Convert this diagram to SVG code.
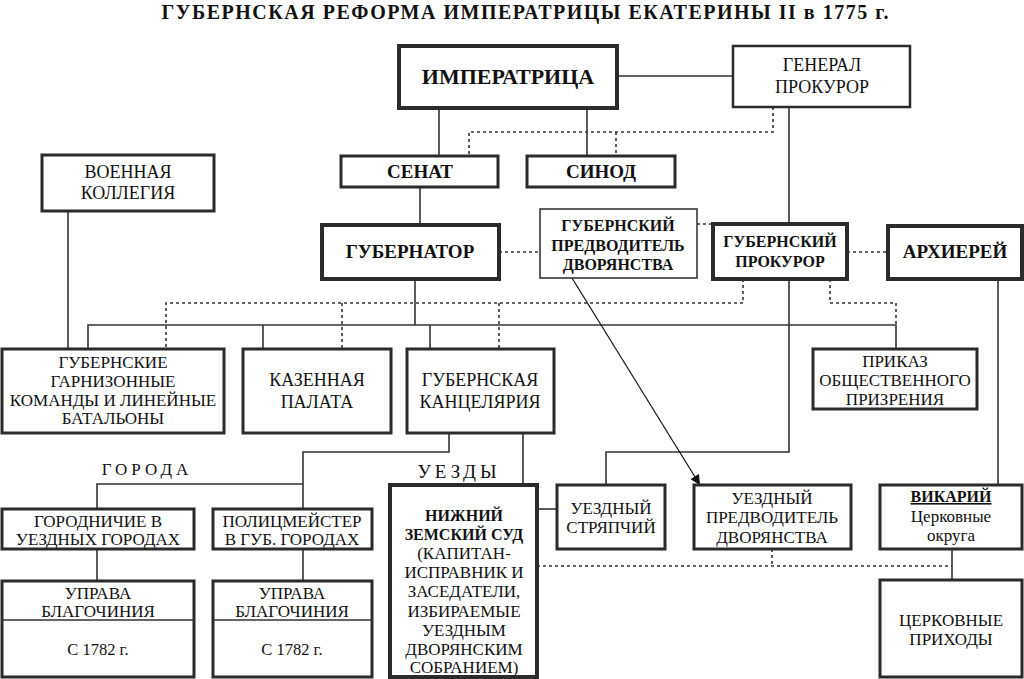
<svg xmlns="http://www.w3.org/2000/svg" width="1024" height="679" viewBox="0 0 1024 679">
<style>
  text { font-family: "Liberation Serif", "Times New Roman", serif; fill: #111; text-anchor: middle; }
  .t { font-size: 20px; font-weight: bold; }
  .n { font-size: 18px; }
  .s { font-size: 17px; }
  .b { font-size: 19px; font-weight: bold; }
  .bs { font-size: 16px; font-weight: bold; }
  .sp { font-size: 17px; letter-spacing: 4px; }
  .box { fill: #fff; stroke: #2b2b2b; stroke-width: 3; }
  .thick { fill: #fff; stroke: #2b2b2b; stroke-width: 4; }
  .thin { fill: #fff; stroke: #2b2b2b; stroke-width: 1.5; }
  .med { fill: #fff; stroke: #2b2b2b; stroke-width: 2.5; }
  .ln { fill: none; stroke: #333; stroke-width: 1.6; }
  .dt { fill: none; stroke: #333; stroke-width: 1.6; stroke-dasharray: 3 3; }
  .ar { fill: none; stroke: #111; stroke-width: 1.2; }
</style>
<defs>
  <marker id="arrow" viewBox="0 0 10 10" refX="10" refY="5" markerWidth="10" markerHeight="10" markerUnits="userSpaceOnUse" orient="auto">
    <path d="M0,0 L10,5 L0,10 z" fill="#111"/>
  </marker>
</defs>
<rect width="1024" height="679" fill="#fff"/>
<text class="t" x="525" y="19" textLength="727" lengthAdjust="spacing">ГУБЕРНСКАЯ РЕФОРМА ИМПЕРАТРИЦЫ ЕКАТЕРИНЫ II в 1775 г.</text>

<g id="connectors">
  <path class="ln" d="M617,76 H733"/>
  <path class="ln" d="M439,108 V156"/>
  <path class="ln" d="M587,108 V156"/>
  <path class="ln" d="M789,107 V224"/>
  <path class="ln" d="M420,187 V225"/>
  <path class="ln" d="M68,211 V349"/>
  <path class="ln" d="M415,279 V325"/>
  <path class="ln" d="M88,349 V325 H896 V349"/>
  <path class="ln" d="M263,325 V349"/>
  <path class="ln" d="M430,325 V349"/>
  <path class="ln" d="M789,279 V452 H606 V485"/>
  <path class="ln" d="M998,279 V485"/>
  <path class="ln" d="M449,433 V452 H303 V509"/>
  <path class="ln" d="M97,509 V484 H303"/>
  <path class="ln" d="M97,549 V581"/>
  <path class="ln" d="M303,549 V581"/>
  <path class="ln" d="M523,433 V485"/>
  <path class="ln" d="M537,509 H557"/>
  <path class="ln" d="M952,549 V580"/>
  <path class="dt" d="M773,107 V132 H469 V156"/>
  <path class="dt" d="M616,132 V156"/>
  <path class="dt" d="M499,252 H540"/>
  <path class="dt" d="M697,224 H713"/>
  <path class="dt" d="M847,252 H888"/>
  <path class="dt" d="M743,279 V303 H166 V349"/>
  <path class="dt" d="M342,303 V349"/>
  <path class="dt" d="M499,303 V349"/>
  <path class="dt" d="M830,279 V303 H896 V325"/>
  <path class="dt" d="M537,566 H952"/>
  <path class="dt" d="M772,549 V566"/>
  <path class="ar" d="M572,278 L700,485" marker-end="url(#arrow)"/>
</g>

<g id="imperatrica">
  <rect class="thick" x="399" y="46" width="218" height="62"/>
  <text style="font-size:22px;font-weight:bold" x="508" y="84">ИМПЕРАТРИЦА</text>
</g>
<g id="general-prokuror">
  <rect class="med" x="733" y="46" width="177" height="61"/>
  <text class="n" x="822" y="71">ГЕНЕРАЛ</text>
  <text class="n" x="822" y="93">ПРОКУРОР</text>
</g>
<g id="senat">
  <rect class="box" x="341" y="156" width="157" height="31"/>
  <text class="b" x="420" y="178">СЕНАТ</text>
</g>
<g id="sinod">
  <rect class="box" x="527" y="156" width="148" height="31"/>
  <text class="b" x="601" y="178">СИНОД</text>
</g>
<g id="voennaya-kollegiya">
  <rect class="box" x="42" y="155" width="172" height="56"/>
  <text class="n" x="128" y="178">ВОЕННАЯ</text>
  <text class="n" x="128" y="199">КОЛЛЕГИЯ</text>
</g>
<g id="gubernator">
  <rect class="thick" x="322" y="225" width="177" height="54"/>
  <text class="b" x="410" y="258">ГУБЕРНАТОР</text>
</g>
<g id="gub-predvoditel">
  <rect class="thin" x="540" y="209" width="157" height="69"/>
  <text class="bs" x="618" y="231">ГУБЕРНСКИЙ</text>
  <text class="bs" x="618" y="251">ПРЕДВОДИТЕЛЬ</text>
  <text class="bs" x="618" y="270">ДВОРЯНСТВА</text>
</g>
<g id="gub-prokuror">
  <rect class="thick" x="713" y="224" width="134" height="55"/>
  <text class="bs" x="780" y="247">ГУБЕРНСКИЙ</text>
  <text class="bs" x="780" y="267">ПРОКУРОР</text>
</g>
<g id="arhierey">
  <rect class="thick" x="888" y="226" width="134" height="53"/>
  <text class="b" x="955" y="258">АРХИЕРЕЙ</text>
</g>
<g id="garnizon">
  <rect class="box" x="2" y="349" width="222" height="84"/>
  <text class="s" x="113" y="368">ГУБЕРНСКИЕ</text>
  <text class="s" x="113" y="387">ГАРНИЗОННЫЕ</text>
  <text class="s" x="113" y="406">КОМАНДЫ И ЛИНЕЙНЫЕ</text>
  <text class="s" x="113" y="424">БАТАЛЬОНЫ</text>
</g>
<g id="kazennaya-palata">
  <rect class="box" x="243" y="349" width="148" height="84"/>
  <text class="n" x="317" y="386">КАЗЕННАЯ</text>
  <text class="n" x="317" y="408">ПАЛАТА</text>
</g>
<g id="gub-kancelyariya">
  <rect class="box" x="407" y="349" width="147" height="84"/>
  <text class="n" x="480" y="386">ГУБЕРНСКАЯ</text>
  <text class="n" x="480" y="408">КАНЦЕЛЯРИЯ</text>
</g>
<g id="prikaz">
  <rect class="box" x="813" y="349" width="164" height="60"/>
  <text class="s" x="895" y="367">ПРИКАЗ</text>
  <text class="s" x="895" y="386">ОБЩЕСТВЕННОГО</text>
  <text class="s" x="895" y="405">ПРИЗРЕНИЯ</text>
</g>
<g id="labels">
  <text class="sp" x="147" y="475">ГОРОДА</text>
  <text class="sp" style="font-size:19px" x="459" y="478">УЕЗДЫ</text>
</g>
<g id="gorodnichie">
  <rect class="box" x="2" y="509" width="192" height="40"/>
  <text class="s" x="98" y="527">ГОРОДНИЧИЕ В</text>
  <text class="s" x="98" y="545">УЕЗДНЫХ ГОРОДАХ</text>
</g>
<g id="policmeister">
  <rect class="box" x="213" y="509" width="159" height="40"/>
  <text class="s" x="292" y="527">ПОЛИЦМЕЙСТЕР</text>
  <text class="s" x="292" y="545">В ГУБ. ГОРОДАХ</text>
</g>
<g id="uprava-1">
  <rect class="box" x="2" y="581" width="192" height="96"/>
  <path class="ln" d="M2,620 H194"/>
  <text class="s" x="98" y="599">УПРАВА</text>
  <text class="s" x="98" y="617">БЛАГОЧИНИЯ</text>
  <text class="s" style="font-size:16.5px" x="98" y="655">С 1782 г.</text>
</g>
<g id="uprava-2">
  <rect class="box" x="213" y="581" width="159" height="96"/>
  <path class="ln" d="M213,620 H372"/>
  <text class="s" x="292" y="599">УПРАВА</text>
  <text class="s" x="292" y="617">БЛАГОЧИНИЯ</text>
  <text class="s" style="font-size:16.5px" x="292" y="655">С 1782 г.</text>
</g>
<g id="nizhniy-sud">
  <rect class="thick" x="390" y="485" width="147" height="192"/>
  <text class="bs" x="464" y="521">НИЖНИЙ</text>
  <text class="bs" x="464" y="540">ЗЕМСКИЙ СУД</text>
  <text class="s" x="464" y="559">(КАПИТАН-</text>
  <text class="s" x="464" y="578">ИСПРАВНИК И</text>
  <text class="s" x="464" y="597">ЗАСЕДАТЕЛИ,</text>
  <text class="s" x="464" y="617">ИЗБИРАЕМЫЕ</text>
  <text class="s" x="464" y="636">УЕЗДНЫМ</text>
  <text class="s" x="464" y="655">ДВОРЯНСКИМ</text>
  <text class="s" x="464" y="673">СОБРАНИЕМ)</text>
</g>
<g id="uezd-stryapchiy">
  <rect class="box" x="557" y="485" width="108" height="64"/>
  <text class="s" x="611" y="514">УЕЗДНЫЙ</text>
  <text class="s" x="611" y="533">СТРЯПЧИЙ</text>
</g>
<g id="uezd-predvoditel">
  <rect class="box" x="694" y="485" width="157" height="64"/>
  <text class="s" x="772" y="504">УЕЗДНЫЙ</text>
  <text class="s" x="772" y="523">ПРЕДВОДИТЕЛЬ</text>
  <text class="s" x="772" y="543">ДВОРЯНСТВА</text>
</g>
<g id="vikariy">
  <rect class="box" x="880" y="485" width="142" height="64"/>
  <text class="bs" style="text-decoration:underline" x="951" y="502">ВИКАРИЙ</text>
  <text class="s" x="951" y="522">Церковные</text>
  <text class="s" x="951" y="541">округа</text>
</g>
<g id="cerk-prihody">
  <rect class="box" x="880" y="580" width="142" height="97"/>
  <text class="s" x="951" y="626">ЦЕРКОВНЫЕ</text>
  <text class="s" x="951" y="645">ПРИХОДЫ</text>
</g>
</svg>
